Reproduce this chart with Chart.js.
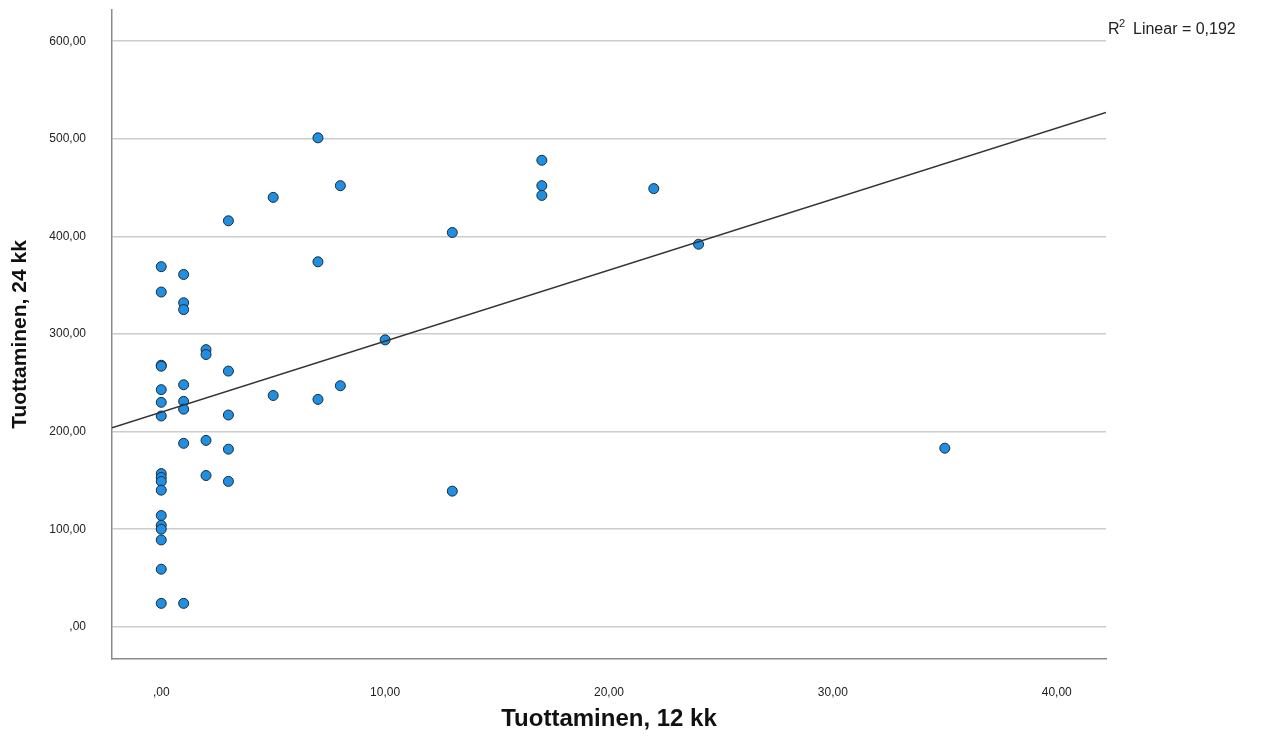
<!DOCTYPE html>
<html>
<head>
<meta charset="utf-8">
<script src="https://cdn.jsdelivr.net/npm/chart.js@4/dist/chart.umd.min.js"></script>
<style>
  body { margin: 0; background: #fff; }
  canvas { display: block; }
</style>
</head>
<body>
<canvas id="c" width="1279" height="740"></canvas>
<script>
/* ---------- dados ---------- */
const x12 = [
  0, 0, 0, 0, 0, 0, 0, 0, 0, 0, 0, 0, 0, 0, 0, 0, 0,
  1, 1, 1, 1, 1, 1, 1, 1,
  2, 2, 2, 2,
  3, 3, 3, 3, 3,
  5, 5,
  7, 7, 7,
  8, 8,
  10,
  13, 13,
  17, 17, 17,
  22,
  24,
  35
];
const y24 = [
  369, 343, 268, 267, 243, 230, 216, 157, 153, 149, 140, 114, 104, 100, 89, 59, 24,
  361, 332, 325, 248, 231, 223, 188, 24,
  284, 279, 191, 155,
  416, 262, 217, 182, 149,
  440, 237,
  501, 374, 233,
  452, 247,
  294,
  404, 139,
  478, 452, 442,
  449,
  392,
  183
];
// linha de ajuste (extremos)
const fitX = [-2.2, 42.2];
const fitY = [204, 527];

const xTicks = [0, 10, 20, 30, 40];
const xTickLabels = [',00', '10,00', '20,00', '30,00', '40,00'];
const yTicks = [0, 100, 200, 300, 400, 500, 600];
const yTickLabels = [',00', '100,00', '200,00', '300,00', '400,00', '500,00', '600,00'];

const rLabel = 'Linear = 0,192';

/* ---------- estilos ---------- */
const FONT = "'Liberation Sans', Arial, sans-serif";
const DOT_FILL = '#1e8fe3';
const DOT_EDGE = '#1f2a33';
const GRID_CO = '#cccccc';
const AXIS_CO = '#8a8a8a';

const r2Plugin = {
  id: 'r2',
  afterDraw(chart) {
    const ctx = chart.ctx;
    ctx.save();
    ctx.fillStyle = '#222';
    ctx.textBaseline = 'alphabetic';
    ctx.font = '16px ' + FONT;
    ctx.fillText('R', 1108, 34);
    ctx.font = '11px ' + FONT;
    ctx.fillText('2', 1119, 27);
    ctx.font = '16px ' + FONT;
    ctx.fillText(rLabel, 1133, 34);
    ctx.restore();
  }
};

const points = x12.map((x, i) => ({ x, y: y24[i] }));
const fitLine = fitX.map((x, i) => ({ x, y: fitY[i] }));

new Chart(document.getElementById('c').getContext('2d'), {
  type: 'scatter',
  data: {
    datasets: [
      {
        type: 'line',
        data: fitLine,
        borderColor: '#333333',
        borderWidth: 1.5,
        pointRadius: 0,
        fill: false,
        order: 0
      },
      {
        data: points,
        backgroundColor: DOT_FILL,
        borderColor: DOT_EDGE,
        borderWidth: 1,
        pointRadius: 5,
        order: 1
      }
    ]
  },
  options: {
    responsive: false,
    animation: false,
    layout: { padding: { left: 0, right: 173, top: 10, bottom: 0 } },
    plugins: { legend: { display: false }, tooltip: { enabled: false } },
    scales: {
      x: {
        type: 'linear',
        min: -2.2,
        max: 42.2,
        afterBuildTicks: s => { s.ticks = xTicks.map(v => ({ value: v })); },
        afterFit: s => { s.height = 81; s.paddingLeft = 0; s.paddingRight = 0; },
        grid: { display: false, drawTicks: false },
        border: { display: true, color: AXIS_CO, width: 1.5 },
        ticks: {
          padding: 26,
          color: '#222',
          font: { family: FONT, size: 12 },
          maxRotation: 0,
          callback: (v, i) => xTickLabels[i]
        },
        title: {
          display: true,
          text: 'Tuottaminen, 12 kk',
          color: '#111',
          font: { family: FONT, size: 24, weight: 'bold' },
          padding: { top: 0, bottom: 6 }
        }
      },
      y: {
        type: 'linear',
        min: -33,
        max: 632,
        afterBuildTicks: s => { s.ticks = yTicks.map(v => ({ value: v })); },
        afterFit: s => { s.width = 112; s.paddingTop = 0; s.paddingBottom = 0; },
        grid: { color: GRID_CO, lineWidth: 1.5, drawTicks: false },
        border: { display: true, color: AXIS_CO, width: 1.5 },
        ticks: {
          padding: 26,
          color: '#222',
          font: { family: FONT, size: 12 },
          callback: (v, i) => yTickLabels[i]
        },
        title: {
          display: true,
          text: 'Tuottaminen, 24 kk',
          color: '#111',
          font: { family: FONT, size: 21, weight: 'bold' },
          padding: { top: 8, bottom: 0 }
        }
      }
    }
  },
  plugins: [r2Plugin]
});
</script>
</body>
</html>
